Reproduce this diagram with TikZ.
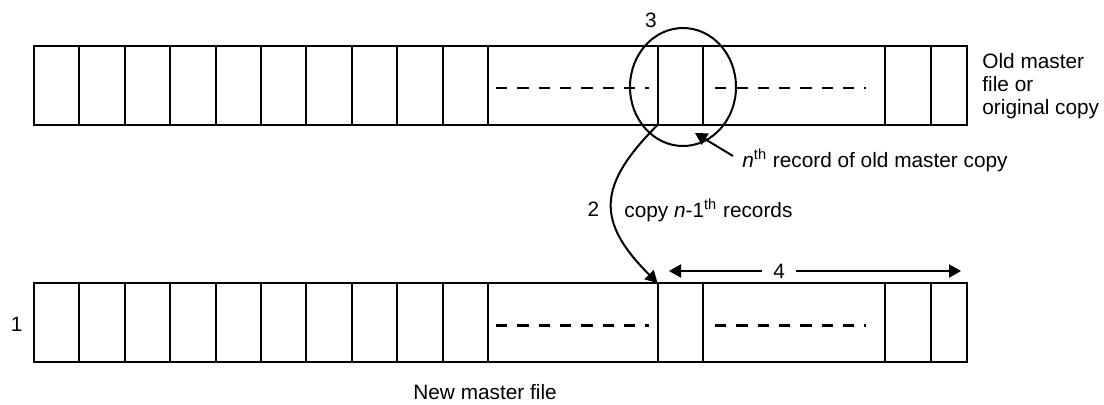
\documentclass[tikz,border=0pt]{standalone}
\usepackage{fontspec}
\setmainfont{Liberation Sans}
\usetikzlibrary{positioning,arrows.meta,calc}
\begin{document}
\begin{tikzpicture}[x=0.5pt,y=0.5pt,font=\fontsize{10.4}{11.4}\selectfont,
  ln/.style={line width=1pt},
  dsh/.style={line width=1.1pt,dash pattern=on 5.65pt off 5pt},
  ar/.style={-{Triangle[length=6pt,width=6.5pt]},line width=1pt},
  ar2/.style={{Triangle[length=6pt,width=6.5pt]}-{Triangle[length=6pt,width=6.5pt]},line width=1pt},
  lbl/.style={inner sep=0pt}]
\useasboundingbox (0,0) rectangle (1104,404);
% old master file (top strip)
\draw[ln] (34,279) rectangle (967,358);
\foreach \x in {79.4,124.8,170.2,215.6,261,306.4,351.8,397.2,442.6,488,657.5,702.7,885,931}
  \draw[ln] (\x,279) -- (\x,358);
\draw[dsh] (496,316) -- (649,316);
\draw[dsh] (715,316) -- (866,316);
% new master file (bottom strip)
\draw[ln] (34,42) rectangle (967,121);
\foreach \x in {79.4,124.8,170.2,215.6,261,306.4,351.8,397.2,442.6,488,657.5,702.7,885,931}
  \draw[ln] (\x,42) -- (\x,121);
\draw[dsh] (496,78.5) -- (649,78.5);
\draw[dsh] (715,78.5) -- (866,78.5);
% n-th record marked on the old copy
\draw[ln] (683,317) ellipse [x radius=53,y radius=59];
\coordinate (oldn) at (657.5,279);
\coordinate (newn) at (657.5,121);
\coordinate (ntail) at (733,248);
\coordinate (ntip) at (695,271);
\coordinate (l4) at (669,133);
\coordinate (r4) at (961,133);
\draw[ar] (oldn) to[out=225,in=135,looseness=1.4] (newn);
\draw[ar] (ntail) -- (ntip);
\draw[ar2] (l4) -- node[pos=0.377,fill=white,inner xsep=5.7pt,inner ysep=1pt] (four) {4} (r4);
% labels
\node[lbl,anchor=north west,align=left] (oldlbl) at (982,351) {Old master\\file or\\original copy};
\node[lbl,anchor=base west] (newlbl) at (413,4.7) {New master file};
\node[lbl,anchor=base west] (nrec) at (742,237) {\textit{n}\textsuperscript{th} record of old master copy};
\node[lbl,anchor=base west] (copy) at (624,187) {copy \textit{n}-1\textsuperscript{th} records};
\node[lbl] (one) at (16.7,80) {1};
\node[lbl] (two) at (593.5,195) {2};
\node[lbl] (three) at (651,384) {3};
\end{tikzpicture}
\end{document}
